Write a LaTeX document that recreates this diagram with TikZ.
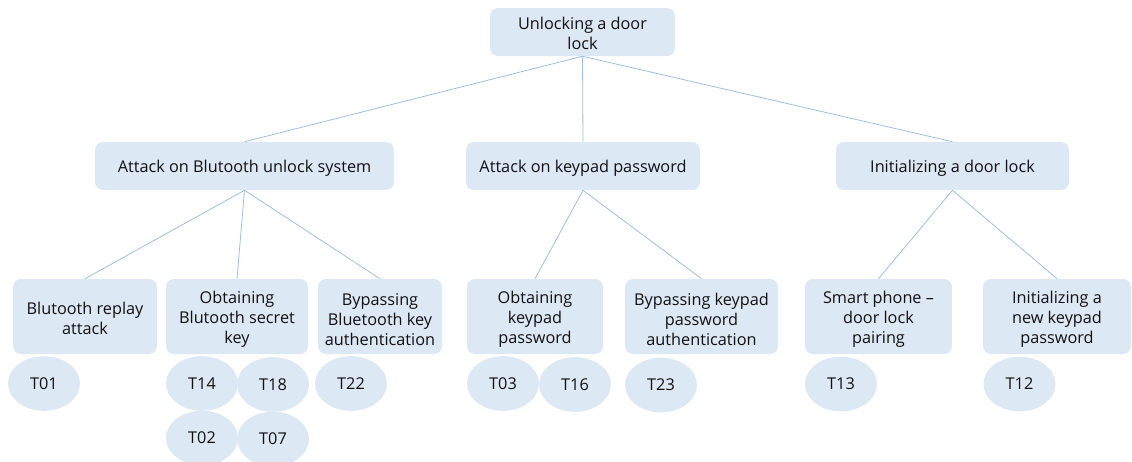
\documentclass[tikz,border=0pt]{standalone}
\usepackage{fontspec}
\setmainfont{Open Sans}
\usetikzlibrary{shapes.geometric}
% invisible strut that sets the height of a node's first text line
\newcommand\lift[1]{\rule{0pt}{#1pt}}
\begin{document}
\begin{tikzpicture}[x=0.75pt,y=-0.75pt,
  box/.style={draw=none,fill=boxfill,rounded corners=6pt,align=center,
    text=txt,font=\fontsize{12.2}{15}\selectfont,inner sep=0pt},
  threat/.style={ellipse,draw=none,fill=boxfill,text=txt,
    font=\fontsize{12.2}{14}\selectfont,inner sep=0pt,
    minimum width=54pt,minimum height=41pt},
  link/.style={draw=linkc,line width=0.6pt}]
\definecolor{boxfill}{HTML}{DDE8F5}
\definecolor{linkc}{HTML}{9DC0E4}
\definecolor{txt}{HTML}{111111}
\useasboundingbox (0,0) rectangle (1132,461);

% root
\node[box,minimum width=138.75pt,minimum height=36pt] (root) at (582.5,32) {\lift{11}Unlocking a door\\lock};

% first level
\node[box,minimum width=224.25pt,minimum height=36pt] (bt) at (244.5,166) {\lift{13}Attack on Blutooth unlock system};
\node[box,minimum width=175.5pt,minimum height=36pt] (kp) at (583,166) {\lift{13}Attack on keypad password};
\node[box,minimum width=174.75pt,minimum height=36pt] (init) at (952.5,166) {\lift{13}Initializing a door lock};

% second level
\node[box,minimum width=108pt,minimum height=56.25pt] (bt1) at (85,316.5) {\lift{12.5}Blutooth replay\\attack};
\node[box,minimum width=106.5pt,minimum height=56.25pt] (bt2) at (237,316.5) {\lift{14}Obtaining\\Blutooth secret\\key};
\node[box,minimum width=93pt,minimum height=56.25pt] (bt3) at (380,316.5) {\lift{14}Bypassing\\Bluetooth key\\authentication};
\node[box,minimum width=102pt,minimum height=56.25pt] (kp1) at (535,316.5) {\lift{14}Obtaining\\keypad\\password};
\node[box,minimum width=114.75pt,minimum height=56.25pt] (kp2) at (701.5,316.5) {\lift{14}Bypassing keypad\\password\\authentication};
\node[box,minimum width=110.25pt,minimum height=56.25pt] (in1) at (878.5,316.5) {\lift{14}Smart phone --\\door lock\\pairing};
\node[box,minimum width=111pt,minimum height=56.25pt] (in2) at (1057,316.5) {\lift{14}Initializing a\\new keypad\\password};

% connectors
\foreach \c in {bt,kp,init}
  \draw[link] (root.south) -- (\c.north);
\foreach \c in {bt1,bt2,bt3}
  \draw[link] (bt.south) -- (\c.north);
\foreach \c in {kp1,kp2}
  \draw[link] (kp.south) -- (\c.north);
\foreach \c in {in1,in2}
  \draw[link] (init.south) -- (\c.north);

% threat identifiers
\node[threat] (t01) at (44,383.5) {T01};
\node[threat] (t14) at (202,383.5) {T14};
\node[threat] (t18) at (273,384.5) {T18};
\node[threat] (t02) at (202,438) {T02};
\node[threat] (t07) at (273,439) {T07};
\node[threat] (t22) at (351,383.5) {T22};
\node[threat] (t03) at (503,383.5) {T03};
\node[threat] (t16) at (575,384.5) {T16};
\node[threat] (t23) at (661,385) {T23};
\node[threat] (t13) at (841,384) {T13};
\node[threat] (t12) at (1019.5,384) {T12};
\end{tikzpicture}
\end{document}
